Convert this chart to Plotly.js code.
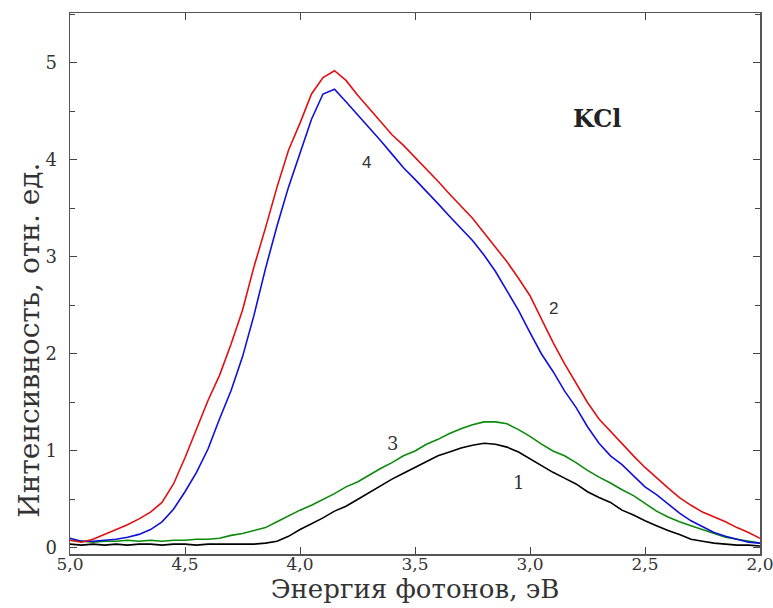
<!DOCTYPE html>
<html>
<head>
<meta charset="utf-8">
<script src="https://cdn.plot.ly/plotly-3.0.1.min.js"></script>
<style>html,body{margin:0;padding:0;background:#fff}#chart{width:773px;height:608px}</style>
</head>
<body>
<div id="chart"></div>
<script>
const energy = [5.00,4.95,4.90,4.85,4.80,4.75,4.70,4.65,4.60,4.55,4.50,4.45,4.40,4.35,4.30,4.25,4.20,4.15,4.10,4.05,4.00,3.95,3.90,3.85,3.80,3.75,3.70,3.65,3.60,3.55,3.50,3.45,3.40,3.35,3.30,3.25,3.20,3.15,3.10,3.05,3.00,2.95,2.90,2.85,2.80,2.75,2.70,2.65,2.60,2.55,2.50,2.45,2.40,2.35,2.30,2.25,2.20,2.15,2.10,2.05,2.00];

const curve1 = [0.04,0.03,0.04,0.03,0.04,0.03,0.04,0.04,0.03,0.04,0.04,0.03,0.04,0.04,0.04,0.04,0.04,0.05,0.07,0.12,0.19,0.25,0.31,0.38,0.43,0.50,0.57,0.64,0.71,0.77,0.83,0.89,0.95,0.99,1.03,1.06,1.08,1.07,1.04,0.99,0.92,0.85,0.78,0.72,0.66,0.58,0.52,0.47,0.39,0.34,0.28,0.23,0.18,0.14,0.09,0.07,0.05,0.04,0.03,0.03,0.02];

const curve2 = [0.08,0.06,0.09,0.14,0.19,0.24,0.30,0.37,0.47,0.66,0.93,1.22,1.52,1.78,2.10,2.45,2.90,3.30,3.72,4.10,4.38,4.68,4.85,4.92,4.82,4.67,4.53,4.40,4.26,4.15,4.03,3.90,3.78,3.65,3.52,3.40,3.25,3.10,2.95,2.78,2.60,2.36,2.12,1.90,1.70,1.50,1.33,1.20,1.08,0.95,0.83,0.72,0.62,0.52,0.44,0.37,0.32,0.27,0.21,0.16,0.10];

const curve3 = [0.08,0.07,0.06,0.07,0.07,0.08,0.07,0.08,0.07,0.08,0.08,0.09,0.09,0.10,0.13,0.15,0.18,0.21,0.27,0.33,0.39,0.44,0.50,0.56,0.63,0.68,0.75,0.82,0.88,0.95,1.00,1.07,1.12,1.18,1.23,1.27,1.30,1.30,1.28,1.22,1.15,1.07,1.00,0.95,0.88,0.80,0.73,0.67,0.60,0.54,0.46,0.38,0.32,0.27,0.23,0.19,0.15,0.11,0.09,0.07,0.05];

const curve4 = [0.10,0.07,0.07,0.08,0.09,0.11,0.14,0.19,0.27,0.40,0.58,0.78,1.02,1.33,1.62,1.97,2.40,2.88,3.32,3.72,4.07,4.42,4.68,4.73,4.60,4.47,4.33,4.20,4.06,3.92,3.80,3.68,3.55,3.42,3.30,3.17,3.02,2.85,2.65,2.45,2.22,2.00,1.82,1.62,1.45,1.25,1.08,0.95,0.86,0.75,0.63,0.55,0.45,0.36,0.28,0.22,0.16,0.12,0.09,0.06,0.05];

const seriesNames = ['1','2','3','4'];
const seriesColors = ['#000000','#e01010','#0a8a0a','#1010d8'];
const seriesData = [curve1, curve2, curve3, curve4];

const xTickVals = [5.0,4.5,4.0,3.5,3.0,2.5,2.0];
const yTickVals = [0,1,2,3,4,5];

const labelText = ['KCl','4','2','3','1'];
const labelX = [2.71,3.71,2.90,3.60,3.05];
const labelY = [4.43,3.97,2.47,1.08,0.67];

const yTitleText = 'Интенсивность, отн. ед.';
const xTitleText = 'Энергия фотонов, эВ';

const serif = 'DejaVu Serif';
const sans = 'Liberation Sans';

const order = [2,0,3,1];
const traces = order.map(i => ({
  x: energy, y: seriesData[i], type: 'scatter', mode: 'lines',
  name: seriesNames[i], line: {color: seriesColors[i], width: 1.6}, hoverinfo: 'x+y'
}));

const annotations = labelText.map((t, i) => ({
  x: labelX[i], y: labelY[i], xref: 'x', yref: 'y', text: t, showarrow: false,
  font: i === 0 ? {family: serif, size: 24, color: '#222', weight: 'bold'} :
        (i <= 2 ? {family: sans, size: 17, color: '#333'} :
                  {family: serif, size: 18, color: '#333'})
}));
annotations.push({
  text: yTitleText, textangle: -90, showarrow: false,
  xref: 'paper', yref: 'paper', x: -0.058, y: 0.396,
  xanchor: 'center', yanchor: 'middle',
  font: {family: serif, size: 28, color: '#333'}
});

const layout = {
  width: 773, height: 608,
  margin: {l: 70, r: 13, t: 13, b: 54},
  paper_bgcolor: '#fff', plot_bgcolor: '#fff',
  showlegend: false,
  separators: ', ',
  font: {family: serif},
  xaxis: {
    range: [5.0, 2.0], tickvals: xTickVals, tickformat: '.1f',
    ticks: 'inside', ticklen: 7, tickwidth: 1, tickcolor: '#444',
    showline: true, linecolor: '#555', linewidth: 1.5, mirror: 'ticks',
    showgrid: false, zeroline: false, ticklabeloverflow: 'allow',
    ticklabelstandoff: -6,
    tickfont: {family: serif, size: 17, color: '#333'},
    title: {text: xTitleText, font: {family: serif, size: 26, color: '#333'}, standoff: 2}
  },
  yaxis: {
    range: [-0.062, 5.515], tickvals: yTickVals,
    ticks: 'inside', ticklen: 7, tickwidth: 1, tickcolor: '#444',
    minor: {tickvals: [0.5,1.5,2.5,3.5,4.5,5.5], ticks: 'inside', ticklen: 5, tickcolor: '#444'},
    showline: true, linecolor: '#555', linewidth: 1.5, mirror: 'ticks',
    showgrid: false, zeroline: false, ticklabelstandoff: 8,
    tickfont: {family: serif, size: 18, color: '#333'}
  },
  annotations: annotations
};

Plotly.newPlot('chart', traces, layout, {displayModeBar: false, staticPlot: true});
</script>
</body>
</html>
